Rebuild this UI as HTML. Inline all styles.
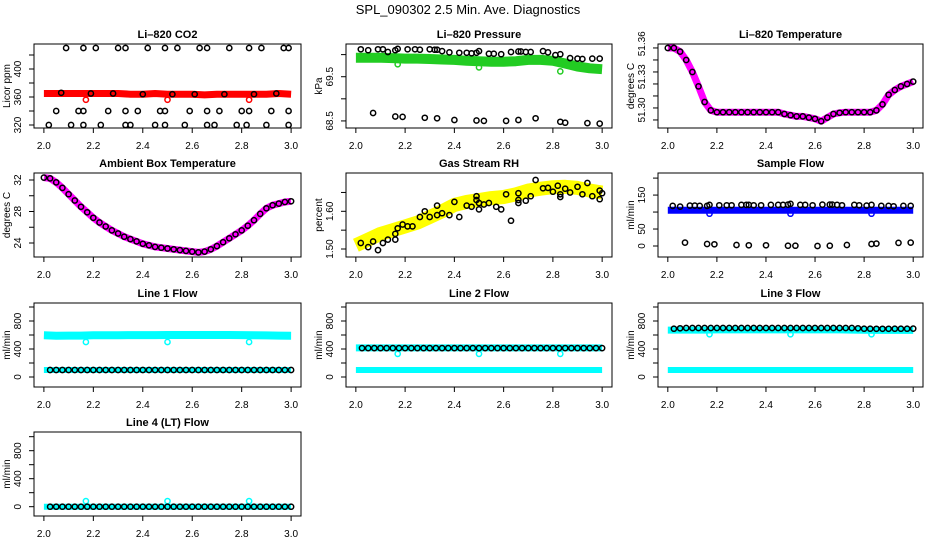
<!DOCTYPE html>
<html><head><meta charset="utf-8"><style>
html,body{margin:0;padding:0;background:#fff}
svg{display:block}
text{font-family:"Liberation Sans",Arial,sans-serif;fill:#000}
</style></head><body>
<svg id="chart" width="936" height="540" viewBox="0 0 936 540" xmlns="http://www.w3.org/2000/svg">
<text x="468" y="14" text-anchor="middle" font-size="13">SPL_090302  2.5 Min. Ave. Diagnostics</text>
</svg>
<script>
// ---------- data ----------
const bandX = [2.0,2.05,2.1,2.15,2.2,2.25,2.3,2.35,2.4,2.45,2.5,2.55,2.6,2.65,2.7,2.75,2.8,2.85,2.9,2.95,3.0];
const xFine = [2.0,2.025,2.05,2.075,2.1,2.125,2.15,2.175,2.2,2.225,2.25,2.275,2.3,2.325,2.35,2.375,2.4,2.425,2.45,2.475,2.5,2.525,2.55,2.575,2.6,2.625,2.65,2.675,2.7,2.725,2.75,2.775,2.8,2.825,2.85,2.875,2.9,2.925,2.95,2.975,3.0];
const outlierX = [2.17,2.5,2.83];

const co2Band = [365,365,365,365,365,365,365,364,364,365,364,364,364,363,364,364,364,364,364,365,364];
const co2TopX = [2.09,2.16,2.21,2.30,2.33,2.42,2.49,2.54,2.63,2.66,2.75,2.83,2.88,2.97,2.99];
const co2TopY = [430,430,430,430,430,430,430,430,430,430,430,430,430,430,430];
const co2MidX = [2.05,2.14,2.16,2.26,2.33,2.38,2.47,2.49,2.59,2.66,2.71,2.80,2.83,2.92,2.99];
const co2MidY = [340,340,340,340,340,340,340,340,340,340,340,340,340,340,340];
const co2LowX = [2.02,2.11,2.16,2.23,2.33,2.35,2.45,2.49,2.57,2.66,2.69,2.78,2.82,2.90,2.99];
const co2LowY = [320,320,320,320,320,320,320,320,320,320,320,320,320,320,320];
const co2OnX = [2.07,2.19,2.28,2.40,2.52,2.61,2.73,2.85,2.94];
const co2OnY = [366,365,365,364,364,364,364,364,365];
const co2Out = [356,356,356];

const presBand = [69.93,69.93,69.93,69.92,69.91,69.91,69.90,69.89,69.88,69.86,69.85,69.84,69.84,69.85,69.88,69.88,69.86,69.80,69.73,69.69,69.67];
const presTopX = [2.02,2.05,2.09,2.11,2.13,2.16,2.17,2.21,2.24,2.26,2.30,2.32,2.33,2.35,2.38,2.42,2.45,2.47,2.49,2.50,2.54,2.56,2.59,2.63,2.66,2.67,2.69,2.71,2.76,2.78,2.81,2.83,2.87,2.90,2.92,2.96,2.99];
const presTopY = [70.12,70.10,70.12,70.12,70.06,70.10,70.13,70.12,70.12,70.11,70.12,70.11,70.11,70.08,70.05,70.04,70.04,70.03,70.04,70.08,70.02,70.02,70.01,70.06,70.07,70.07,70.06,70.06,70.08,70.05,69.99,70.01,69.92,69.91,69.90,69.91,69.91];
const presLowX = [2.07,2.16,2.19,2.28,2.33,2.40,2.49,2.52,2.61,2.66,2.73,2.83,2.85,2.94,2.99];
const presLowY = [68.68,68.60,68.59,68.57,68.56,68.52,68.51,68.50,68.50,68.52,68.56,68.48,68.46,68.45,68.44];
const presOut = [69.78,69.71,69.62];

const tempVals = [51.350,51.350,51.347,51.340,51.330,51.318,51.305,51.298,51.2965,51.2965,51.2965,51.2965,51.2965,51.2965,51.2965,51.2965,51.2965,51.2965,51.2965,51.295,51.294,51.293,51.293,51.292,51.291,51.289,51.292,51.295,51.296,51.2965,51.2965,51.2965,51.2965,51.2965,51.298,51.303,51.311,51.315,51.318,51.320,51.322];

const ambVals = [32.3,32.2,31.7,31.0,30.2,29.4,28.6,27.9,27.2,26.6,26.1,25.6,25.2,24.8,24.5,24.2,23.9,23.7,23.5,23.4,23.3,23.2,23.1,23.0,22.9,22.8,22.9,23.2,23.6,24.1,24.6,25.1,25.6,26.2,26.9,27.7,28.4,28.8,29.0,29.2,29.3];

const rhBand = [1.51,1.525,1.54,1.55,1.56,1.57,1.585,1.60,1.617,1.625,1.63,1.635,1.638,1.645,1.655,1.66,1.664,1.665,1.662,1.655,1.65];
const rhX = [2.02,2.05,2.07,2.09,2.11,2.13,2.16,2.16,2.17,2.19,2.21,2.23,2.26,2.28,2.30,2.33,2.33,2.35,2.38,2.40,2.42,2.45,2.47,2.49,2.49,2.50,2.50,2.52,2.54,2.57,2.59,2.61,2.63,2.66,2.66,2.66,2.69,2.71,2.73,2.76,2.78,2.80,2.82,2.83,2.83,2.85,2.87,2.90,2.92,2.94,2.96,2.99,2.99,3.00];
const rhY = [1.516,1.505,1.52,1.497,1.516,1.525,1.525,1.54,1.555,1.565,1.56,1.56,1.585,1.60,1.585,1.615,1.59,1.595,1.59,1.625,1.585,1.615,1.612,1.64,1.63,1.622,1.605,1.618,1.622,1.612,1.605,1.645,1.575,1.63,1.622,1.648,1.628,1.64,1.683,1.661,1.662,1.652,1.668,1.645,1.638,1.66,1.65,1.665,1.645,1.675,1.64,1.655,1.632,1.648];

const flowBand = [105,105,105,105,105,105,105,105,105,105,105,105,105,105,105,105,105,105,105,105,105];
const flowTopY = [118,116,119,119,118,118,121,120,120,120,121,121,121,120,120,121,121,121,122,124,121,121,120,122,122,122,121,120,121,120,119,121,118,118,117,118,118];
const flowLowY = [10,6,5,3,2,2,1,1,0,1,3,6,7,9,10];
const flowOut = [95,95,95];

const line1Hi = [595,590,592,592,595,596,596,598,598,598,600,600,600,600,600,600,598,596,594,592,590];
const line1Lo = [100,100,100,100,100,100,100,100,100,100,100,100,100,100,100,100,100,100,100,100,100];
const line1Black = [100,100,100,100,100,100,100,100,100,100,100,100,100,100,100,100,100,100,100,100,100,100,100,100,100,100,100,100,100,100,100,100,100,100,100,100,100,100,100,100,100];
const line1Out = [500,500,500];

const line2Hi = [415,415,415,415,415,415,415,415,415,415,415,415,415,415,415,415,415,415,415,415,415];
const line2Lo = [100,100,100,100,100,100,100,100,100,100,100,100,100,100,100,100,100,100,100,100,100];
const line2Black = [412,412,412,412,412,412,412,412,412,412,412,412,412,412,412,412,412,412,412,412,412,412,412,412,412,412,412,412,412,412,412,412,412,412,412,412,412,412,412,412,412];
const line2Out = [330,330,330];

const line3Hi = [670,670,670,670,672,672,672,672,672,672,672,672,672,672,672,670,668,665,665,665,665];
const line3Lo = [100,100,100,100,100,100,100,100,100,100,100,100,100,100,100,100,100,100,100,100,100];
const line3Black = [690,690,695,700,700,700,700,700,700,700,700,700,700,700,700,700,700,700,700,700,700,700,700,700,700,700,700,700,700,700,700,695,690,690,688,688,688,690,690,690,692];
const line3Out = [610,610,610];

const line4Lo = [0,0,0,0,0,0,0,0,0,0,0,0,0,0,0,0,0,0,0,0,0];
const line4Black = [0,0,0,0,0,0,0,0,0,0,0,0,0,0,0,0,0,0,0,0,0,0,0,0,0,0,0,0,0,0,0,0,0,0,0,0,0,0,0,0,0];
const line4Out = [80,80,80];

const xTicks = [2.0,2.2,2.4,2.6,2.8,3.0];
const xTickLabels = ["2.0","2.2","2.4","2.6","2.8","3.0"];

// ---------- drawing ----------
const NS = "http://www.w3.org/2000/svg";
const svg = document.getElementById('chart');
const colL = [34,346,658], colR = [301,612,923];
const rowT = [44,173,303,432], rowB = [128,257,387,516];
function mk(tag, attrs, parent){
  const e = document.createElementNS(NS, tag);
  for (const k in attrs) e.setAttribute(k, attrs[k]);
  (parent||svg).appendChild(e);
  return e;
}

function panel(cfg){
  const L = colL[cfg.col], R = colR[cfg.col], T = rowT[cfg.row], B = rowB[cfg.row];
  const g = mk('g', {});
  
  
  const sx = x => L + (x - 1.96) / 1.08 * (R - L);
  const sy = v => B - (v - cfg.ylim[0]) / (cfg.ylim[1] - cfg.ylim[0]) * (B - T);
  const clip = 'clip-' + cfg.name;
  const cp = mk('clipPath', {id: clip}, g);
  mk('rect', {x: L, y: T, width: R - L, height: B - T}, cp);
  const marks = mk('g', {'clip-path': 'url(#' + clip + ')'}, g);
  
  
  cfg.series.forEach(s => {
    if (s.type === 'band') {
      const pts = s.x.map((x, i) => sx(x).toFixed(1) + ',' + sy(s.y[i]).toFixed(1)).join(' ');
      const pl = mk('polyline', {points: pts, fill: 'none', stroke: s.color, 'stroke-width': s.w, 'stroke-linecap': 'butt', 'stroke-linejoin': 'round'}, marks);
      
      
    } else {
      const sg = mk('g', {fill: 'none', stroke: s.color, 'stroke-width': s.sw || 1.5}, marks);
      
      
      s.x.forEach((x, i) => {
        const c = mk('circle', {cx: sx(x).toFixed(1), cy: sy(s.y[i]).toFixed(1), r: s.r || 2.6}, sg);
        
        
      });
    }
  });
  const box = mk('rect', {x: L, y: T, width: R - L, height: B - T, fill: 'none', stroke: '#000', 'stroke-width': 1}, g);
  
  
  const xa = mk('g', {}, g);
  
  
  mk('line', {x1: sx(2.0), x2: sx(3.0), y1: B, y2: B, stroke: '#000'}, xa);
  xTicks.forEach((t, i) => {
    mk('line', {x1: sx(t), x2: sx(t), y1: B, y2: B + 5, stroke: '#000'}, xa);
    const tx = mk('text', {x: sx(t), y: B + 21, 'text-anchor': 'middle', 'font-size': 10}, xa);
    tx.textContent = xTickLabels[i];
    
    
  });
  const ya = mk('g', {}, g);
  
  
  mk('line', {x1: L, x2: L, y1: sy(cfg.ticks[0]), y2: sy(cfg.ticks[cfg.ticks.length - 1]), stroke: '#000'}, ya);
  cfg.ticks.forEach(t => mk('line', {x1: L - 5, x2: L, y1: sy(t), y2: sy(t), stroke: '#000'}, ya));
  cfg.labels.forEach((lab, i) => {
    if (!lab) return;
    const v = cfg.labelAt ? cfg.labelAt[i] : cfg.ticks[i];
    const y = sy(v);
    const tx = mk('text', {x: L - 13, y: y, 'text-anchor': 'middle', 'font-size': 10, transform: 'rotate(-90 ' + (L - 13) + ' ' + y + ')'}, ya);
    tx.textContent = lab;
    
    
  });
  const yc = (T + B) / 2;
  const yl = mk('text', {x: L - 24, y: yc, 'text-anchor': 'middle', 'font-size': 10, transform: 'rotate(-90 ' + (L - 24) + ' ' + yc + ')'}, ya);
  yl.textContent = cfg.ylab;
  
  
  const tt = mk('text', {x: (L + R) / 2, y: T - 6, 'text-anchor': 'middle', 'font-size': 11, 'font-weight': 'bold'}, g);
  tt.textContent = cfg.title;
  
  
}

const K = '#000';
panel({name:'co2-panel', col:0, row:0, title:'Li\u2013820 CO2', ylab:'Licor ppm', ylim:[315.7,435.7],
  ticks:[320,340,360,380,400,420], labels:['320','','360','','400',''],
  series:[
    {type:'band', name:'co2-band', x:bandX, y:co2Band, color:'#ff0000', w:7},
    {type:'pts', name:'co2-outliers', x:outlierX, y:co2Out, color:'#ff0000'},
    {type:'pts', name:'co2-high-points', x:co2TopX, y:co2TopY, color:K},
    {type:'pts', name:'co2-mid-points', x:co2MidX, y:co2MidY, color:K},
    {type:'pts', name:'co2-low-points', x:co2LowX, y:co2LowY, color:K},
    {type:'pts', name:'co2-band-points', x:co2OnX, y:co2OnY, color:K}
  ]});
panel({name:'pressure-panel', col:1, row:0, title:'Li\u2013820 Pressure', ylab:'kPa', ylim:[68.34,70.24],
  ticks:[68.5,69.0,69.5,70.0], labels:['68.5','','69.5',''],
  series:[
    {type:'band', name:'pressure-band', x:bandX, y:presBand, color:'#22cc22', w:10},
    {type:'pts', name:'pressure-outliers', x:outlierX, y:presOut, color:'#22cc22'},
    {type:'pts', name:'pressure-high-points', x:presTopX, y:presTopY, color:K},
    {type:'pts', name:'pressure-low-points', x:presLowX, y:presLowY, color:K}
  ]});
panel({name:'temperature-panel', col:2, row:0, title:'Li\u2013820 Temperature', ylab:'degrees C', ylim:[51.2833,51.3533],
  ticks:[51.29,51.30,51.31,51.32,51.33,51.34,51.35], labels:['51.30','51.33','51.36'],
  labelAt:[51.2983,51.326,51.3535],
  series:[
    {type:'band', name:'temperature-band', x:xFine, y:tempVals, color:'#ff00ff', w:7},
    {type:'pts', name:'temperature-points', x:xFine, y:tempVals, color:K}
  ]});
panel({name:'ambient-panel', col:0, row:1, title:'Ambient Box Temperature', ylab:'degrees C', ylim:[22.22,32.89],
  ticks:[24,26,28,30,32], labels:['24','','28','','32'],
  series:[
    {type:'band', name:'ambient-band', x:xFine, y:ambVals, color:'#ff00ff', w:7},
    {type:'pts', name:'ambient-points', x:xFine, y:ambVals, color:K}
  ]});
panel({name:'rh-panel', col:1, row:1, title:'Gas Stream RH', ylab:'percent', ylim:[1.4788,1.7016],
  ticks:[1.50,1.55,1.60,1.65], labels:['1.50','','1.60',''],
  series:[
    {type:'band', name:'rh-band', x:bandX, y:rhBand, color:'#ffff00', w:14},
    {type:'pts', name:'rh-points', x:rhX, y:rhY, color:K}
  ]});
panel({name:'sample-flow-panel', col:2, row:1, title:'Sample Flow', ylab:'ml/min', ylim:[-32.4,215],
  ticks:[0,50,100,150,200], labels:['0','50','','150',''],
  series:[
    {type:'band', name:'sample-flow-band', x:bandX, y:flowBand, color:'#0000ff', w:7},
    {type:'pts', name:'sample-flow-outliers', x:outlierX, y:flowOut, color:'#0000ff'},
    {type:'pts', name:'sample-flow-high-points', x:presTopX, y:flowTopY, color:K},
    {type:'pts', name:'sample-flow-low-points', x:presLowX, y:flowLowY, color:K}
  ]});
const flowTicks = [0,200,400,600,800,1000], flowLabels = ['0','','400','','800',''];
panel({name:'line1-panel', col:0, row:2, title:'Line 1 Flow', ylab:'ml/min', ylim:[-143,1057], ticks:flowTicks, labels:flowLabels,
  series:[
    {type:'band', name:'line1-high-band', x:bandX, y:line1Hi, color:'#00ffff', w:8},
    {type:'band', name:'line1-low-band', x:bandX, y:line1Lo, color:'#00ffff', w:6},
    {type:'pts', name:'line1-outliers', x:outlierX, y:line1Out, color:'#00ffff'},
    {type:'pts', name:'line1-points', x:xFine.slice(1), y:line1Black.slice(1), color:K}
  ]});
panel({name:'line2-panel', col:1, row:2, title:'Line 2 Flow', ylab:'ml/min', ylim:[-143,1057], ticks:flowTicks, labels:flowLabels,
  series:[
    {type:'band', name:'line2-high-band', x:bandX, y:line2Hi, color:'#00ffff', w:7},
    {type:'band', name:'line2-low-band', x:bandX, y:line2Lo, color:'#00ffff', w:6},
    {type:'pts', name:'line2-outliers', x:outlierX, y:line2Out, color:'#00ffff'},
    {type:'pts', name:'line2-points', x:xFine.slice(1), y:line2Black.slice(1), color:K}
  ]});
panel({name:'line3-panel', col:2, row:2, title:'Line 3 Flow', ylab:'ml/min', ylim:[-143,1057], ticks:flowTicks, labels:flowLabels,
  series:[
    {type:'band', name:'line3-high-band', x:bandX, y:line3Hi, color:'#00ffff', w:7},
    {type:'band', name:'line3-low-band', x:bandX, y:line3Lo, color:'#00ffff', w:6},
    {type:'pts', name:'line3-outliers', x:outlierX, y:line3Out, color:'#00ffff'},
    {type:'pts', name:'line3-points', x:xFine.slice(1), y:line3Black.slice(1), color:K}
  ]});
panel({name:'line4-panel', col:0, row:3, title:'Line 4 (LT) Flow', ylab:'ml/min', ylim:[-133,1067], ticks:flowTicks, labels:flowLabels,
  series:[
    {type:'band', name:'line4-band', x:bandX, y:line4Lo, color:'#00ffff', w:6},
    {type:'pts', name:'line4-outliers', x:outlierX, y:line4Out, color:'#00ffff'},
    {type:'pts', name:'line4-points', x:xFine.slice(1), y:line4Black.slice(1), color:K}
  ]});
</script>
</body></html>
